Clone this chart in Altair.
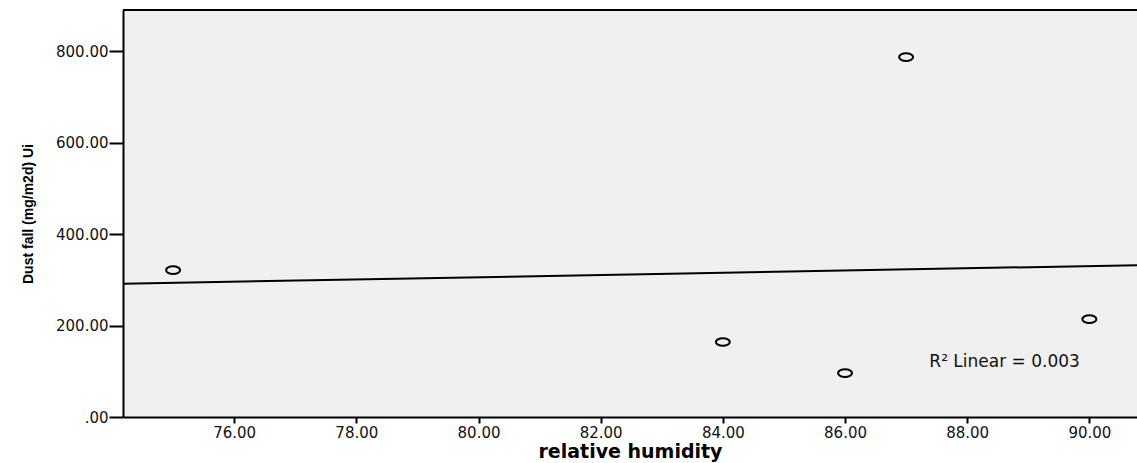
import altair as alt
import pandas as pd

# Relative humidity (%) and measured dust fall (mg/m2d) at each site
humidity = [75, 84, 86, 87, 90]
dust_fall = [321, 164, 96, 787, 214]

x_ticks = [76, 78, 80, 82, 84, 86, 88, 90]
y_ticks = [0, 200, 400, 600, 800]
x_domain = [74.18, 90.78]
y_domain = [0, 890]

fit_label = "R\u00b2 Linear = 0.003"

df = pd.DataFrame({"humidity": humidity, "dust": dust_fall})

tick_font = "DejaVu Sans"
fmt = "datum.value == 0 ? '.00' : format(datum.value, '.2f')"

x_enc = alt.X(
    "humidity:Q",
    scale=alt.Scale(domain=x_domain, nice=False, zero=False),
    axis=alt.Axis(
        values=x_ticks, labelExpr=fmt, grid=False,
        title="relative humidity", titleFont="DejaVu Sans", titleFontSize=19,
        titleFontWeight="bold", titleColor="#000", titlePadding=2,
        labelFont=tick_font, labelFontSize=15, labelColor="#111", labelPadding=2,
        domainColor="#000", domainWidth=2, tickColor="#000", tickWidth=2, tickSize=6,
    ),
)
y_enc = alt.Y(
    "dust:Q",
    scale=alt.Scale(domain=y_domain, nice=False),
    axis=alt.Axis(
        values=y_ticks, labelExpr=fmt, grid=False,
        title="Dust fall (mg/m2d) Ui",
        titleFont="Liberation Sans",
        titleFontSize=14, titleFontWeight="bold", titleColor="#000", titlePadding=20,
        labelFont=tick_font, labelFontSize=15, labelColor="#111", labelPadding=1,
        domainColor="#000", domainWidth=2, tickColor="#000", tickWidth=2, tickSize=14,
    ),
)

base = alt.Chart(df)

# Open elliptical markers
ellipse = "M-1,0 A1,0.55 0 1,0 1,0 A1,0.55 0 1,0 -1,0 Z"
points = base.mark_point(
    shape=ellipse, size=196, filled=False, stroke="#000", strokeWidth=2, opacity=1
).encode(x=x_enc, y=y_enc)

# Least-squares fit line across the whole x range
fit = base.transform_regression(
    "humidity", "dust", method="linear", extent=x_domain
).mark_line(color="#000", strokeWidth=2, clip=True).encode(x="humidity:Q", y="dust:Q")

# Top border of the plot area
top = alt.Chart(pd.DataFrame({"v": [0]})).mark_rule(color="#000", strokeWidth=2).encode(
    x=alt.value(0), x2=alt.value(1014), y=alt.value(0)
)

label = alt.Chart(pd.DataFrame({"x": [87.38], "y": [120], "t": [fit_label]})).mark_text(
    align="left", baseline="middle", font="DejaVu Sans", fontSize=17, color="#111"
).encode(x="x:Q", y="y:Q", text="t:N")

chart = (
    alt.layer(fit, points, label, top)
    .properties(
        width=1014, height=407,
        autosize=alt.AutoSizeParams(type="none"),
        padding={"left": 123, "top": 10, "right": 0, "bottom": 46},
        background="#ffffff",
    )
    .configure_view(fill="#f0f0f0", stroke=None)
)

chart.save("out.html", embed_options={"renderer": "svg", "actions": False})
